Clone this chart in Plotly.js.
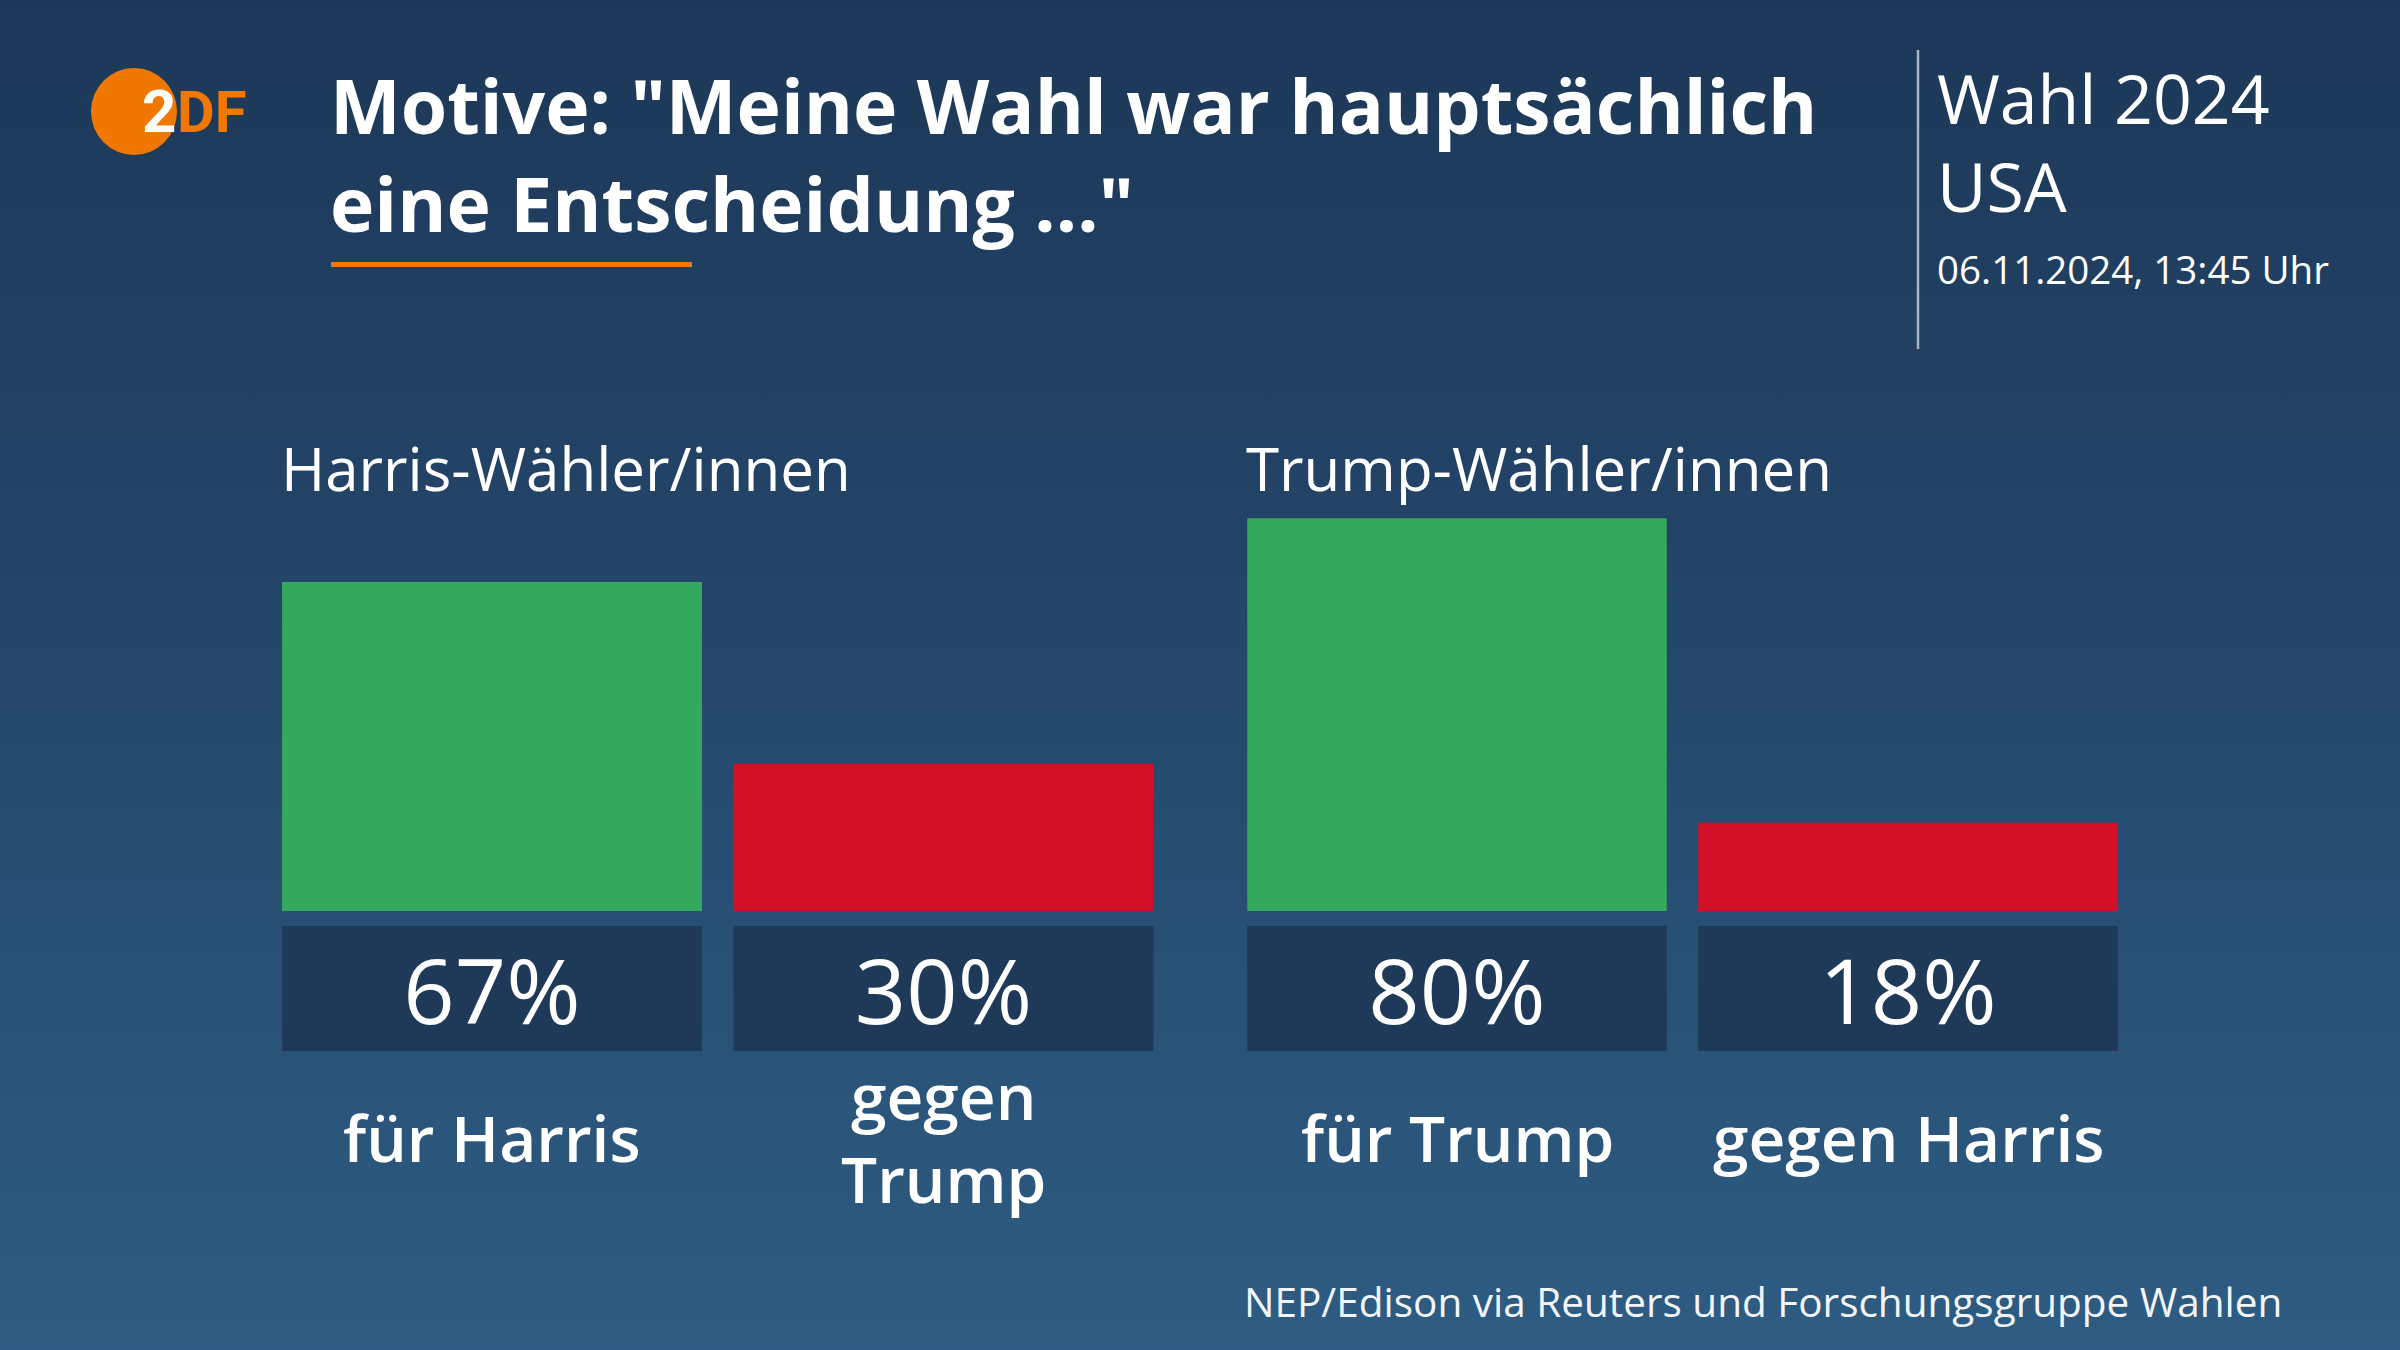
<!DOCTYPE html>
<html>
<head>
<meta charset="utf-8">
<script src="https://cdn.plot.ly/plotly-3.0.1.min.js"></script>
<style>
  html, body { margin: 0; padding: 0; }
  body { width: 2400px; height: 1350px; background: linear-gradient(to bottom, #1d3858 0%, #24466a 45%, #2e5c82 100%); overflow: hidden; }
  #chart { width: 2400px; height: 1350px; }
</style>
</head>
<body>
<div id="chart"></div>
<script>
// ---- data ----
const titleText = 'Motive: "Meine Wahl war hauptsächlich<br>eine Entscheidung ..."';
const sideTitle = 'Wahl 2024<br>USA';
const dateText = '06.11.2024, 13:45 Uhr';
const sourceText = 'NEP/Edison via Reuters und Forschungsgruppe Wahlen';
const groupTitles = ['Harris-Wähler/innen', 'Trump-Wähler/innen'];
const harrisCats = ['für Harris', 'gegen Trump'];
const harrisLabels = ['für Harris', 'gegen<br>Trump'];
const harrisVals = [67, 30];
const trumpCats = ['für Trump', 'gegen Harris'];
const trumpLabels = ['für Trump', 'gegen Harris'];
const trumpVals = [80, 18];

// ---- styles / layout constants ----
const W = 2400, H = 1350;
const px = x => x / W;
const py = y => 1 - y / H;
const barColors = ['#34a85c', '#d40f28'];
const boxColor = '#1f3a59';
const BOX_BASE = -28.5, BOX_HEIGHT = 25.45;
const FONT = '"Open Sans", Roboto, sans-serif';
const RFONT = 'Roboto, "Open Sans", sans-serif';

function groupTraces(cats, vals, xa) {
  return [
    {
      type: 'bar', x: cats, y: vals, xaxis: xa, yaxis: 'y',
      marker: { color: barColors, line: { width: 0 } },
      hoverinfo: 'skip', showlegend: false
    },
    {
      type: 'bar', x: cats, y: cats.map(() => BOX_HEIGHT), base: BOX_BASE,
      xaxis: xa, yaxis: 'y',
      marker: { color: boxColor, line: { width: 0 } },
      text: vals.map(v => v + '%'), textposition: 'inside', insidetextanchor: 'middle',
      constraintext: 'none', textangle: 0,
      textfont: { family: FONT, size: 90, color: '#ffffff', weight: 400 },
      hoverinfo: 'skip', showlegend: false
    }
  ];
}

const data = [].concat(groupTraces(harrisCats, harrisVals, 'x'), groupTraces(trumpCats, trumpVals, 'x2'));

const annotations = [];
// title
annotations.push({
  xref: 'paper', yref: 'paper', x: px(328), y: py(154), xanchor: 'left', yanchor: 'middle', align: 'left',
  text: titleText, showarrow: false, font: { family: FONT, size: 75, color: '#ffffff', weight: 700 }
});
// side title
annotations.push({
  xref: 'paper', yref: 'paper', x: px(1935), y: py(141), xanchor: 'left', yanchor: 'middle', align: 'left',
  text: sideTitle, showarrow: false, font: { family: FONT, size: 68, color: '#ffffff', weight: 400 }
});
annotations.push({
  xref: 'paper', yref: 'paper', x: px(1935), y: py(269), xanchor: 'left', yanchor: 'middle',
  text: dateText, showarrow: false, font: { family: FONT, size: 38.5, color: '#ffffff', weight: 400 }
});
// logo letters
annotations.push({
  xref: 'paper', yref: 'paper', x: px(159), y: py(112), xanchor: 'center', yanchor: 'middle',
  text: '2', showarrow: false, font: { family: RFONT, size: 60, color: '#ffffff', weight: 700 }
});
annotations.push({
  xref: 'paper', yref: 'paper', x: px(175), y: py(112), xanchor: 'left', yanchor: 'middle',
  text: 'DF', showarrow: false, font: { family: RFONT, size: 58, color: '#f07800', weight: 700 }
});
// group titles
[[groupTitles[0], 279], [groupTitles[1], 1244]].forEach(([t, x]) => annotations.push({
  xref: 'paper', yref: 'paper', x: px(x), y: py(468), xanchor: 'left', yanchor: 'middle',
  text: t, showarrow: false, font: { family: FONT, size: 60, color: '#ffffff', weight: 400 }
}));
// category labels
[[harrisLabels, 'x'], [trumpLabels, 'x2']].forEach(([labels, xa]) => {
  labels.forEach((lab, i) => annotations.push({
    xref: xa, yref: 'paper', x: i, y: py(1137), xanchor: 'center', yanchor: 'middle', align: 'center',
    text: lab, showarrow: false, font: { family: FONT, size: 64, color: '#ffffff', weight: 600 }
  }));
});
// source
annotations.push({
  xref: 'paper', yref: 'paper', x: px(2284), y: py(1301), xanchor: 'right', yanchor: 'middle',
  text: sourceText, showarrow: false, font: { family: FONT, size: 40.5, color: '#f2f5f8', weight: 400 }
});

const shapes = [
  { type: 'circle', xref: 'paper', yref: 'paper', x0: px(91), x1: px(177), y0: py(155), y1: py(68),
    fillcolor: '#f07800', line: { width: 0 }, layer: 'below' },
  { type: 'rect', xref: 'paper', yref: 'paper', x0: px(331), x1: px(692), y0: py(267), y1: py(262),
    fillcolor: '#f07800', line: { width: 0 } },
  { type: 'line', xref: 'paper', yref: 'paper', x0: px(1918), x1: px(1918), y0: py(50), y1: py(349),
    line: { color: '#a9b4c2', width: 2.5 } }
];

const axisCommon = {
  type: 'category', showgrid: false, zeroline: false, showline: false, showticklabels: false,
  ticks: '', fixedrange: true, range: [-0.5, 1.5]
};

const layout = {
  width: W, height: H,
  margin: { l: 0, r: 0, t: 0, b: 0, pad: 0 },
  paper_bgcolor: 'rgba(0,0,0,0)', plot_bgcolor: 'rgba(0,0,0,0)',
  barmode: 'overlay', bargap: 0.0698,
  showlegend: false,
  xaxis: Object.assign({}, axisCommon, { domain: [px(266.25), px(1169.25)], anchor: 'y' }),
  xaxis2: Object.assign({}, axisCommon, { domain: [px(1231.5), px(2133.5)], anchor: 'y' }),
  yaxis: { domain: [py(1051), py(420)], range: [BOX_BASE, 100], showgrid: false, zeroline: false,
           showline: false, showticklabels: false, ticks: '', fixedrange: true },
  annotations: annotations,
  shapes: shapes,
  font: { family: FONT, color: '#ffffff' }
};

Plotly.newPlot('chart', data, layout, { staticPlot: true, displayModeBar: false });
</script>
</body>
</html>
